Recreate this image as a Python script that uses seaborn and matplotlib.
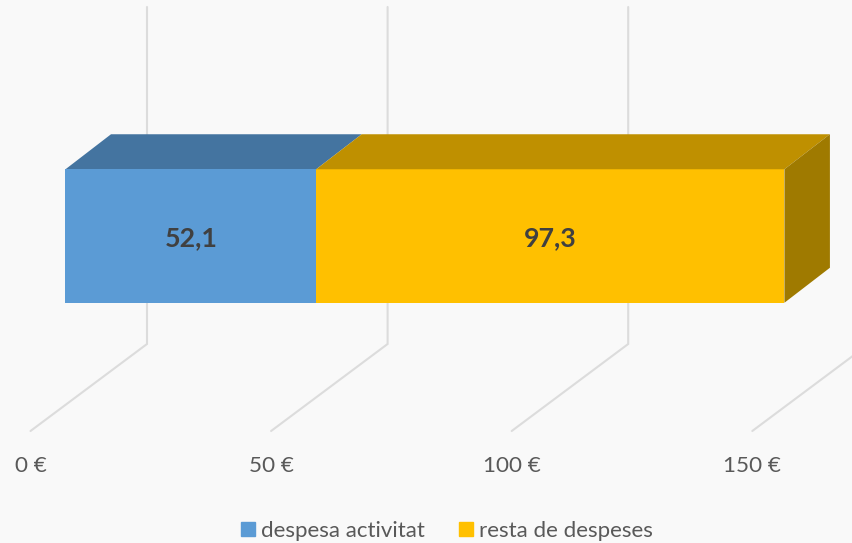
# -*- coding: utf-8 -*-
"""
    Barra apilada amb efecte 3D: despesa activitat / resta de despeses
"""
import matplotlib
matplotlib.use('Agg')
import matplotlib.pyplot as plt
from matplotlib.patches import Patch
import seaborn as sns

category = ['despeses']
series_names = ['despesa activitat', 'resta de despeses']
series_values = [52.1, 97.3]
value_labels = ['52,1', '97,3']
tick_values = [0, 50, 100, 150]
tick_labels = ['0 €', '50 €', '100 €', '150 €']

front_colors = ['#5B9BD5', '#FFC000']
top_colors = ['#4474A0', '#BF9000']
side_color = '#9F7A00'
grid_color = '#DCDCDC'
bg_color = '#F9F9F9'

# escala en pixels
WIDTH, HEIGHT = 853, 543
X0_PX = 65.5
PX_PER_UNIT = 4.812
BAR_PX = 133.5
BAR_CENTER_PX = 236.0


def dx(px):
    return px / PX_PER_UNIT


def dy(px):
    return px / BAR_PX


def draw_grid(ax):
    """
        Linies de graella: terra i paret del fons
    """
    for value in tick_values:
        x_front = value + dx(-35)
        x_back = value + dx(81.5)
        y_front = dy(431 - BAR_CENTER_PX)
        y_back = dy(344 - BAR_CENTER_PX)
        y_top = dy(7 - BAR_CENTER_PX)
        ax.plot([x_front, x_back, x_back], [y_front, y_back, y_top],
                color=grid_color, lw=1.5, zorder=1, solid_joinstyle='miter')


def draw_bars(ax):
    """
        Cara frontal amb seaborn (acumulada), cares superior i lateral amb polígons
    """
    total = sum(series_values)
    sns.barplot(x=[total], y=category, orient='h', color=front_colors[1],
                saturation=1, width=1, linewidth=0, ax=ax, zorder=3)
    sns.barplot(x=[series_values[0]], y=category, orient='h', color=front_colors[0],
                saturation=1, width=1, linewidth=0, ax=ax, zorder=4)

    depth_x, depth_y = dx(45.5), dy(-35)
    left = 0
    for value, color in zip(series_values, top_colors):
        right = left + value
        ax.fill([left, right, right + depth_x, left + depth_x],
                [-0.5, -0.5, -0.5 + depth_y, -0.5 + depth_y],
                color=color, lw=0, zorder=3)
        left = right
    ax.fill([total, total + depth_x, total + depth_x, total],
            [-0.5, -0.5 + depth_y, 0.5 + depth_y, 0.5],
            color=side_color, lw=0, zorder=3)

    left = 0
    for value, label in zip(series_values, value_labels):
        ax.text(left + value / 2, dy(2), label, ha='center', va='center',
                fontsize=19.3, fontweight='bold', color='#404040', zorder=5)
        left += value


def main():
    sns.set_theme(style='white')
    plt.rcParams['font.family'] = ['Lato', 'DejaVu Sans']

    fig = plt.figure(figsize=(WIDTH / 100, HEIGHT / 100), dpi=100, facecolor=bg_color)
    ax = fig.add_axes([0, 0, 1, 1], facecolor=bg_color)

    draw_grid(ax)
    draw_bars(ax)

    ax.set_xlim(dx(-X0_PX), dx(WIDTH - X0_PX))
    ax.set_ylim(dy(HEIGHT - BAR_CENTER_PX), dy(-BAR_CENTER_PX))
    ax.set_xlabel('')
    ax.set_ylabel('')
    ax.set_yticks([])
    ax.set_xticks([v + dx(-35) for v in tick_values], tick_labels)
    ax.tick_params(axis='x', length=0, pad=-62.5, labelsize=16.2, labelcolor='#595959')
    sns.despine(ax=ax, left=True, bottom=True)

    handles = [Patch(color=c, label=n) for c, n in zip(front_colors, series_names)]
    ax.legend(handles=handles, ncol=2, loc='center', bbox_to_anchor=(447 / WIDTH, 1 - 531 / HEIGHT),
              frameon=False, fontsize=16, labelcolor='#595959', handlelength=0.63, handleheight=0.63,
              handletextpad=0.27, columnspacing=1.5, borderpad=0)

    fig.savefig('out.png', dpi=100, facecolor=bg_color)


if __name__ == '__main__':
    main()
